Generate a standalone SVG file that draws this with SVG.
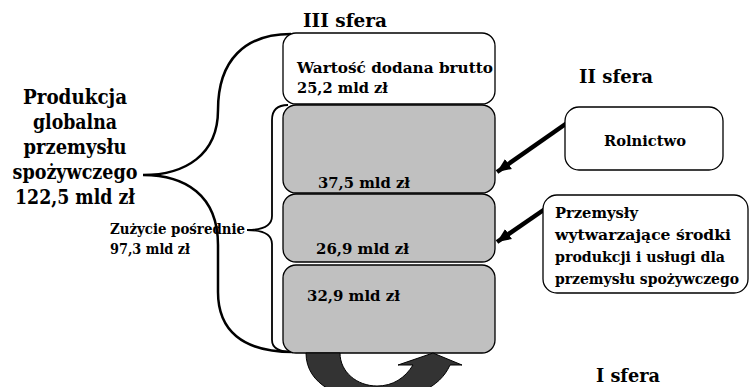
<svg xmlns="http://www.w3.org/2000/svg" width="752" height="387" viewBox="0 0 752 387" font-family="'DejaVu Serif', serif">
<style>
  text { font-family: 'DejaVu Serif', serif; font-weight: bold; fill: #000; }
  .big { font-size: 20px; }
  .head { font-size: 18px; }
  .lbl { font-size: 15.5px; }
  .sm { font-size: 14px; }
  .box { stroke: #000; stroke-width: 1.3; }
  .white { fill: #fff; }
  .gray { fill: #c0c0c0; }
  .brace { fill: none; stroke: #000; }
  .arrow { stroke: #000; stroke-width: 4.5; fill: none; }
</style>
<defs>
  <marker id="ah" markerUnits="userSpaceOnUse" markerWidth="16" markerHeight="14" refX="14" refY="7" orient="auto">
    <path d="M0,1 L14,7 L0,13 Z" fill="#000"/>
  </marker>
</defs>
<rect width="752" height="387" fill="#fff"/>

<g id="labels">
  <text class="head" x="345" y="27" text-anchor="middle" textLength="84" lengthAdjust="spacingAndGlyphs">III sfera</text>
  <text class="head" x="616" y="83" text-anchor="middle" textLength="74" lengthAdjust="spacingAndGlyphs">II sfera</text>
  <text class="head" x="628" y="382" text-anchor="middle" textLength="64" lengthAdjust="spacingAndGlyphs">I sfera</text>
</g>

<g id="produkcja">
  <text class="big" x="75" y="104" text-anchor="middle" textLength="104" lengthAdjust="spacingAndGlyphs">Produkcja</text>
  <text class="big" x="75" y="129" text-anchor="middle" textLength="84" lengthAdjust="spacingAndGlyphs">globalna</text>
  <text class="big" x="75" y="154" text-anchor="middle" textLength="103" lengthAdjust="spacingAndGlyphs">przemysłu</text>
  <text class="big" x="75" y="179" text-anchor="middle" textLength="125" lengthAdjust="spacingAndGlyphs">spożywczego</text>
  <text class="big" x="75" y="204" text-anchor="middle" textLength="120" lengthAdjust="spacingAndGlyphs">122,5 mld zł</text>
</g>

<g id="connectors">
  <path class="brace" stroke-width="2.5" d="M291,34 C245,34 218,60 218,110 C218,155 185,175 143,175 C185,175 218,195 218,245 L218,292 C218,330 242,352 293,352"/>
  <path class="brace" stroke-width="1.8" d="M288,105 C278,105 272,110 272,120 L272,216 C272,225 265,230 247,230 C265,230 272,235 272,244 L272,340 C272,348 280,352 293,352"/>
  <line class="arrow" x1="567" y1="123" x2="497" y2="172" marker-end="url(#ah)"/>
  <line class="arrow" x1="545" y1="209" x2="497" y2="242" marker-end="url(#ah)"/>
</g>

<g id="wartosc">
  <rect class="box white" x="283" y="33" width="212" height="71" rx="13"/>
  <text class="lbl" x="297" y="73" textLength="196" lengthAdjust="spacingAndGlyphs">Wartość dodana brutto</text>
  <text class="lbl" x="297" y="93" textLength="91" lengthAdjust="spacingAndGlyphs">25,2 mld zł</text>
</g>

<g id="seg1">
  <rect class="box gray" x="283" y="105" width="212" height="88" rx="13"/>
  <text class="lbl" x="318" y="188" textLength="92" lengthAdjust="spacingAndGlyphs">37,5 mld zł</text>
</g>

<g id="seg2">
  <rect class="box gray" x="283" y="194" width="212" height="68" rx="13"/>
  <text class="lbl" x="316" y="254" textLength="93" lengthAdjust="spacingAndGlyphs">26,9 mld zł</text>
</g>

<g id="seg3">
  <rect class="box gray" x="283" y="265" width="212" height="88" rx="13"/>
  <text class="lbl" x="307" y="301" textLength="93" lengthAdjust="spacingAndGlyphs">32,9 mld zł</text>
</g>

<g id="zuzycie">
  <text class="sm" x="110" y="234" textLength="135" lengthAdjust="spacingAndGlyphs">Zużycie pośrednie</text>
  <text class="sm" x="110" y="254" textLength="80" lengthAdjust="spacingAndGlyphs">97,3 mld zł</text>
</g>

<g id="rolnictwo">
  <rect class="box white" x="565" y="107" width="158" height="63" rx="14"/>
  <text class="lbl" x="645" y="146" text-anchor="middle" textLength="82" lengthAdjust="spacingAndGlyphs">Rolnictwo</text>
</g>

<g id="przemysly">
  <rect class="box white" x="543" y="195" width="205" height="98" rx="14"/>
  <text class="lbl" x="555" y="218" textLength="83" lengthAdjust="spacingAndGlyphs">Przemysły</text>
  <text class="lbl" x="555" y="240" textLength="176" lengthAdjust="spacingAndGlyphs">wytwarzające środki</text>
  <text class="lbl" x="555" y="262" textLength="170" lengthAdjust="spacingAndGlyphs">produkcji i usługi dla</text>
  <text class="lbl" x="555" y="284" textLength="184" lengthAdjust="spacingAndGlyphs">przemysłu spożywczego</text>
</g>

<g id="cycle">
  <path d="M306,353 C306,385 340,400 377,400 C412,400 440,388 450,365 L462,365 L433,353 L398,365 L413,365 C405,378 393,386 377,386 C357,386 340,372 340,353 Z" fill="#333" stroke="#000" stroke-width="1"/>
</g>
</svg>
